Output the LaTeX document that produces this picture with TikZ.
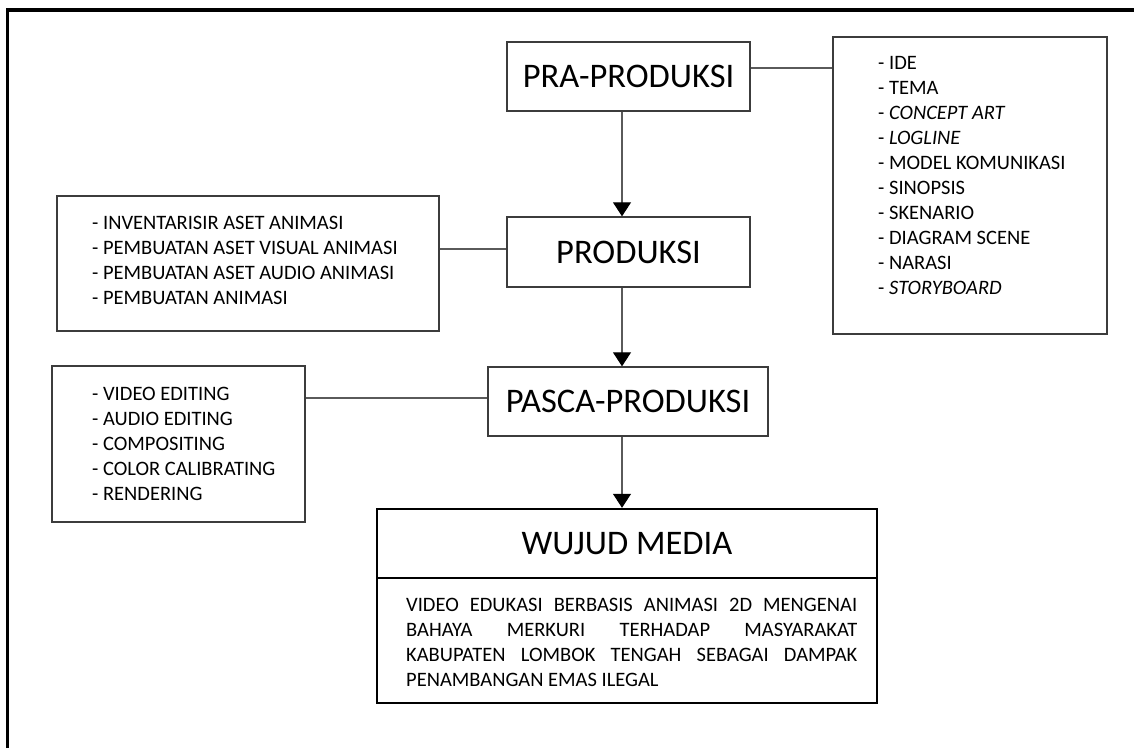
\documentclass[tikz,border=0pt]{standalone}
\usepackage{fontspec}
\setmainfont{Carlito}
\usetikzlibrary{arrows.meta}
\definecolor{boxc}{HTML}{3C3C3C}
\definecolor{linec}{HTML}{5A5A5A}
\begin{document}
\begin{tikzpicture}[x=1pt,y=-1pt,
  stagebox/.style={draw=boxc,line width=1.4pt,inner sep=0pt,font=\fontsize{34.5}{41}\selectfont},
  listbox/.style={draw=boxc,line width=1.4pt,inner sep=0pt},
  listtext/.style={inner sep=0pt,align=left,anchor=north west,font=\fontsize{20.5}{25}\selectfont},
  media/.style={draw=black,line width=2.4pt,inner sep=0pt,font=\fontsize{34.5}{41}\selectfont},
  link/.style={draw=linec,line width=1.1pt},
  flow/.style={link,-{Triangle[width=18pt,length=14pt,color=black]}}]
\useasboundingbox (0,0) rectangle (1134,748);
% outer frame
\draw[line width=3.4pt,black] (7.7,748) -- (7.7,10) -- (1134,10);
% stage boxes
\node[stagebox,minimum width=243pt,minimum height=69pt] (pra) at (628.5,76.5) {PRA-PRODUKSI};
\node[stagebox,minimum width=243pt,minimum height=70pt] (prod) at (628.5,252) {PRODUKSI};
\node[stagebox,minimum width=280pt,minimum height=69pt] (pasca) at (628,401.5) {PASCA-PRODUKSI};
\node[media,minimum width=500pt,minimum height=69pt] (wt) at (627,543.5) {WUJUD MEDIA};
\node[media,minimum width=500pt,minimum height=125pt] (wb) at (627,640.5) {};
% list boxes
\node[listbox,minimum width=274pt,minimum height=297pt] (la) at (970,185.5) {};
\node[listbox,minimum width=382pt,minimum height=135pt] (lb) at (248,263.5) {};
\node[listbox,minimum width=253pt,minimum height=156pt] (lc) at (178.5,444) {};
% list texts
\node[listtext] (ta) at (878,56.4) {- IDE\\- TEMA\\- \textit{CONCEPT ART}\\- \textit{LOGLINE}\\- MODEL KOMUNIKASI\\- SINOPSIS\\- SKENARIO\\- DIAGRAM SCENE\\- NARASI\\- \textit{STORYBOARD}};
\node[listtext] (tb) at (92,216.4) {- INVENTARISIR ASET ANIMASI\\- PEMBUATAN ASET VISUAL ANIMASI\\- PEMBUATAN ASET AUDIO ANIMASI\\- PEMBUATAN ANIMASI};
\node[listtext] (tc) at (92,387.4) {- VIDEO EDITING\\- AUDIO EDITING\\- COMPOSITING\\- COLOR CALIBRATING\\- RENDERING};
\node[listtext] (tw) at (406,598.4) {\makebox[451pt][s]{VIDEO EDUKASI BERBASIS ANIMASI 2D MENGENAI}\\\makebox[451pt][s]{BAHAYA MERKURI TERHADAP MASYARAKAT}\\\makebox[451pt][s]{KABUPATEN LOMBOK TENGAH SEBAGAI DAMPAK}\\PENAMBANGAN EMAS ILEGAL};
% connectors
\coordinate (ax) at (622,0);
\coordinate (ya) at (0,68);
\coordinate (yb) at (0,249);
\coordinate (yc) at (0,398);
\draw[flow] (ax |- pra.south) -- (ax |- prod.north);
\draw[flow] (ax |- prod.south) -- (ax |- pasca.north);
\draw[flow] (ax |- pasca.south) -- (ax |- wt.north);
\draw[link] (pra.east |- ya) -- (la.west |- ya);
\draw[link] (lb.east |- yb) -- (prod.west |- yb);
\draw[link] (lc.east |- yc) -- (pasca.west |- yc);
\end{tikzpicture}
\end{document}
